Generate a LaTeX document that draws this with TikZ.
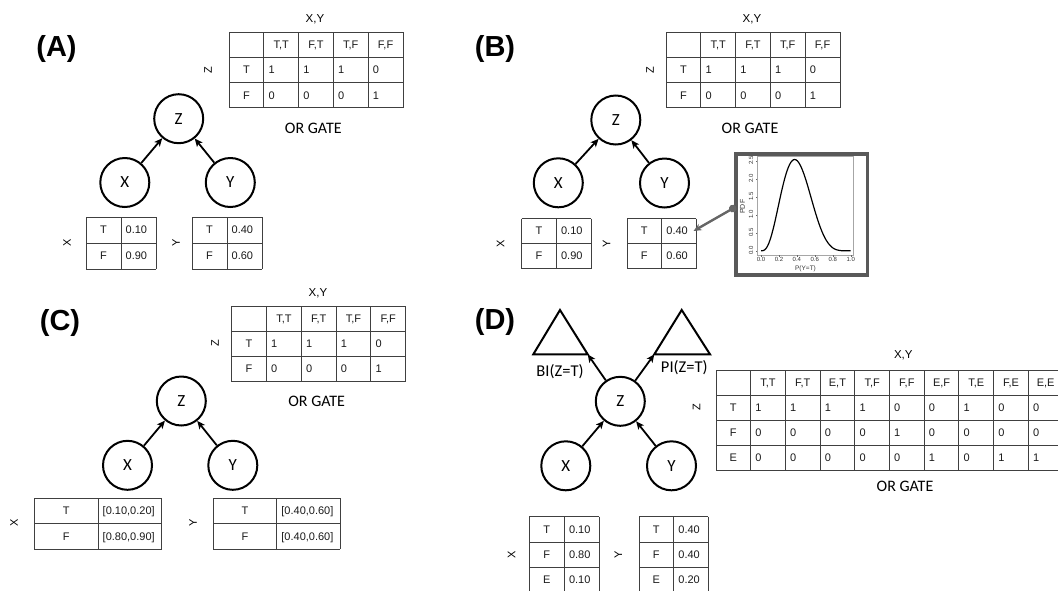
\documentclass[tikz,border=0pt]{standalone}
\usepackage{fontspec}
\setmainfont{Liberation Sans}
\newfontfamily\calfont{Carlito}
\usetikzlibrary{arrows.meta}

\tikzset{
 bn/.style={circle, draw, line width=2pt, minimum size=49pt, inner sep=0pt, font=\calfont\fontsize{17}{20}\selectfont},
 arr/.style={line width=1.8pt, -{Stealth[length=8pt,width=7pt,inset=2pt]}},
 tabline/.style={draw=black!75, line width=0.9pt},
 tabc/.style={inner sep=0pt, text height=7.8pt, text depth=0pt, font=\fontsize{11}{12}\selectfont, text=black!90},
 tabl/.style={tabc, anchor=west},
 sidelab/.style={rotate=90, inner sep=0pt, font=\fontsize{11}{13}\selectfont},
 xylab/.style={inner sep=0pt, font=\fontsize{11.5}{13}\selectfont},
 gate/.style={inner sep=0pt, font=\calfont\fontsize{16}{19}\selectfont},
 panel/.style={inner sep=0pt, font=\bfseries\fontsize{29}{33}\selectfont, anchor=base},
 tri/.style={line width=2pt, line join=miter},
 trilab/.style={inner sep=0pt, font=\calfont\fontsize{16.5}{19}\selectfont},
 ticklab/.style={inner sep=0pt, font=\fontsize{6}{7}\selectfont, text=black!80},
 conn/.style={draw=black!60, line width=2.4pt, {Circle[length=7.5pt]}-{Stealth[length=8pt,width=7pt]}},
}

% #1 name, #2 x0, #3 y0, #4 col width, #5 row height, #6 ncols, #7 nrows, #8 header rows, #9 rows
\newcommand\cpt[9]{%
 \foreach \i in {0,...,#6} \draw[tabline] ({#2+\i*#4},#3) -- ({#2+\i*#4},{#3+#7*#5});
 \foreach \j in {0,...,#7} \draw[tabline] (#2,{#3+\j*#5}) -- ({#2+#6*#4},{#3+\j*#5});
 \foreach \rowlist [count=\r from 0] in {#9} {
   \foreach \cell [count=\c from 0] in \rowlist {
     \ifnum\c=0 \def\mode{0}\else \ifnum\r<#8 \def\mode{0}\else\def\mode{1}\fi\fi
     \if0\mode
       \node[tabc] (#1-\r-\c) at ({#2+\c*#4+#4/2},{#3+\r*#5+#5/2}) {\cell};
     \else
       \node[tabl] (#1-\r-\c) at ({#2+\c*#4+4.5},{#3+\r*#5+#5/2}) {\cell};
     \fi
   }
 }
}

\begin{document}
\begin{tikzpicture}[x=1pt,y=-1pt]
\useasboundingbox (0,0) rectangle (1058,590);

% ---------------- Panel A ----------------
\node[panel] (labA) at (56.5,56.2) {(A)};
\node[xylab] (xyA) at (315,19.5) {X,Y};
\node[sidelab] (zA) at (208,70) {Z};
\cpt{AT}{229}{32}{34.8}{25.3}{5}{3}{1}{{{}, {T,T}, {F,T}, {T,F}, {F,F}}, {T,1,1,1,0}, {F,0,0,0,1}}
\node[gate] (gA) at (313.3,128.3) {OR GATE};
\node[bn] (AZ) at (178.7,118.7) {Z};
\node[bn] (AX) at (124.8,182.5) {X};
\node[bn] (AY) at (230.3,182.5) {Y};
\draw[arr] (AX) -- (AZ);
\draw[arr] (AY) -- (AZ);
\cpt{AX}{86}{217}{35}{26}{2}{2}{0}{{T,0.10},{F,0.90}}
\cpt{AY}{192}{217}{35}{26}{2}{2}{0}{{T,0.40},{F,0.60}}
\node[sidelab] (xlA) at (67,243) {X};
\node[sidelab] (ylA) at (176,243) {Y};

% ---------------- Panel B ----------------
\node[panel] (labB) at (495,56.2) {(B)};
\node[xylab] (xyB) at (752,19.5) {X,Y};
\node[sidelab] (zB) at (650,70) {Z};
\cpt{BT}{666}{32}{34.8}{25.3}{5}{3}{1}{{{}, {T,T}, {F,T}, {T,F}, {F,F}}, {T,1,1,1,0}, {F,0,0,0,1}}
\node[gate] (gB) at (750,128.3) {OR GATE};
\node[bn] (BZ) at (615.8,120) {Z};
\node[bn] (BXn) at (558.3,182.8) {X};
\node[bn] (BYn) at (664.5,183) {Y};
\draw[arr] (BXn) -- (BZ);
\draw[arr] (BYn) -- (BZ);
\cpt{BX}{521.7}{218.5}{34.7}{25}{2}{2}{0}{{T,0.10},{F,0.90}}
\cpt{BY}{627}{218.5}{34.7}{25}{2}{2}{0}{{T,0.40},{F,0.60}}
\node[sidelab] (xlB) at (500.7,244) {X};
\node[sidelab] (ylB) at (606.7,244) {Y};

% PDF plot
\node[draw=black!65, line width=3.5pt, minimum width=131.3pt, minimum height=121pt, inner sep=0pt] (pdfbox) at (801.65,214.5) {};
\draw[black!35, line width=0.5pt] (757.3,156) rectangle (853.3,255);
\foreach \t [count=\k] in {0.0,0.2,0.4,0.6,0.8,1.0} {
  \draw[black!60, line width=0.4pt] ({761+89.7*\t},255) -- ({761+89.7*\t},256.5);
  \node[ticklab] (xt\k) at ({761+89.7*\t},259.8) {\t};
}
\foreach \p [count=\k] in {0.0,0.5,1.0,1.5,2.0,2.5} {
  \draw[black!60, line width=0.4pt] (757.3,{250.7-36*\p}) -- (755.8,{250.7-36*\p});
  \node[ticklab, rotate=90] (yt\k) at (751,{250.7-36*\p}) {\p};
}
\node[ticklab, rotate=90, font=\fontsize{7}{8}\selectfont] (pdflab) at (742.5,206.7) {PDF};
\node[ticklab, font=\fontsize{6.5}{7}\selectfont] (plab) at (805.5,268.5) {P(Y=T)};
\draw[line width=1.2pt, smooth] plot[domain=0:1, samples=70] ({761+89.7*\x},{250.7-36*(504*(\x)^3*(1-\x)^5)});
\coordinate (dot) at (736,206.7);
\draw[conn] (dot) -- ([xshift=5.5pt]BY-0-1.east);

% ---------------- Panel C ----------------
\node[panel] (labC) at (60,330.5) {(C)};
\node[xylab] (xyC) at (318,293.5) {X,Y};
\node[sidelab] (zC) at (215,343.5) {Z};
\cpt{CT}{231.7}{306}{34.8}{25.2}{5}{3}{1}{{{}, {T,T}, {F,T}, {T,F}, {F,F}}, {T,1,1,1,0}, {F,0,0,0,1}}
\node[gate] (gC) at (316.7,401.7) {OR GATE};
\node[bn] (CZ) at (181.3,401) {Z};
\node[bn] (CXn) at (127.5,465.3) {X};
\node[bn] (CYn) at (232.8,465.3) {Y};
\draw[arr] (CXn) -- (CZ);
\draw[arr] (CYn) -- (CZ);
\cpt{CX}{34.3}{498.3}{63.7}{25.4}{2}{2}{0}{{T,{[0.10,0.20]}},{F,{[0.80,0.90]}}}
\cpt{CY}{213.3}{498.3}{63.4}{25.4}{2}{2}{0}{{T,{[0.40,0.60]}},{F,{[0.40,0.60]}}}
\node[sidelab] (xlC) at (14,523.3) {X};
\node[sidelab] (ylC) at (193,523.3) {Y};

% ---------------- Panel D ----------------
\node[panel] (labD) at (495,329) {(D)};
\coordinate (BIa) at (560,310);
\coordinate (BIl) at (533.3,354.3);
\coordinate (BIr) at (587.7,354.3);
\coordinate (PIa) at (681.7,310);
\coordinate (PIl) at (654.3,354.3);
\coordinate (PIr) at (710,354.3);
\draw[tri] (BIa) -- (BIl) -- (BIr) -- cycle;
\draw[tri] (PIa) -- (PIl) -- (PIr) -- cycle;
\node[trilab] (bil) at (560,371.7) {BI(Z=T)};
\node[trilab] (pil) at (684.3,367.3) {PI(Z=T)};
\node[bn] (DZ) at (620.3,401.3) {Z};
\node[bn] (DXn) at (565.8,465.8) {X};
\node[bn] (DYn) at (671.5,465.8) {Y};
\draw[arr] (DXn) -- (DZ);
\draw[arr] (DYn) -- (DZ);
\draw[arr] (DZ) -- (BIr);
\draw[arr] (DZ) -- (PIl);
\node[xylab] (xyD) at (903.3,355) {X,Y};
\node[sidelab] (zD) at (696.7,406.7) {Z};
\cpt{DT}{716}{370}{34.7}{25}{10}{4}{1}{{{}, {T,T},{F,T},{E,T},{T,F},{F,F},{E,F},{T,E},{F,E},{E,E}}, {T,1,1,1,1,0,0,1,0,0}, {F,0,0,0,0,1,0,0,0,0}, {E,0,0,0,0,0,1,0,1,1}}
\node[gate] (gD) at (905,486.7) {OR GATE};
\cpt{DX}{529.3}{516.7}{35}{25.3}{2}{3}{0}{{T,0.10},{F,0.80},{E,0.10}}
\cpt{DY}{639}{516.7}{34.7}{25.3}{2}{3}{0}{{T,0.40},{F,0.40},{E,0.20}}
\node[sidelab] (xlD) at (511.7,555) {X};
\node[sidelab] (ylD) at (618.3,555) {Y};
\end{tikzpicture}
\end{document}
